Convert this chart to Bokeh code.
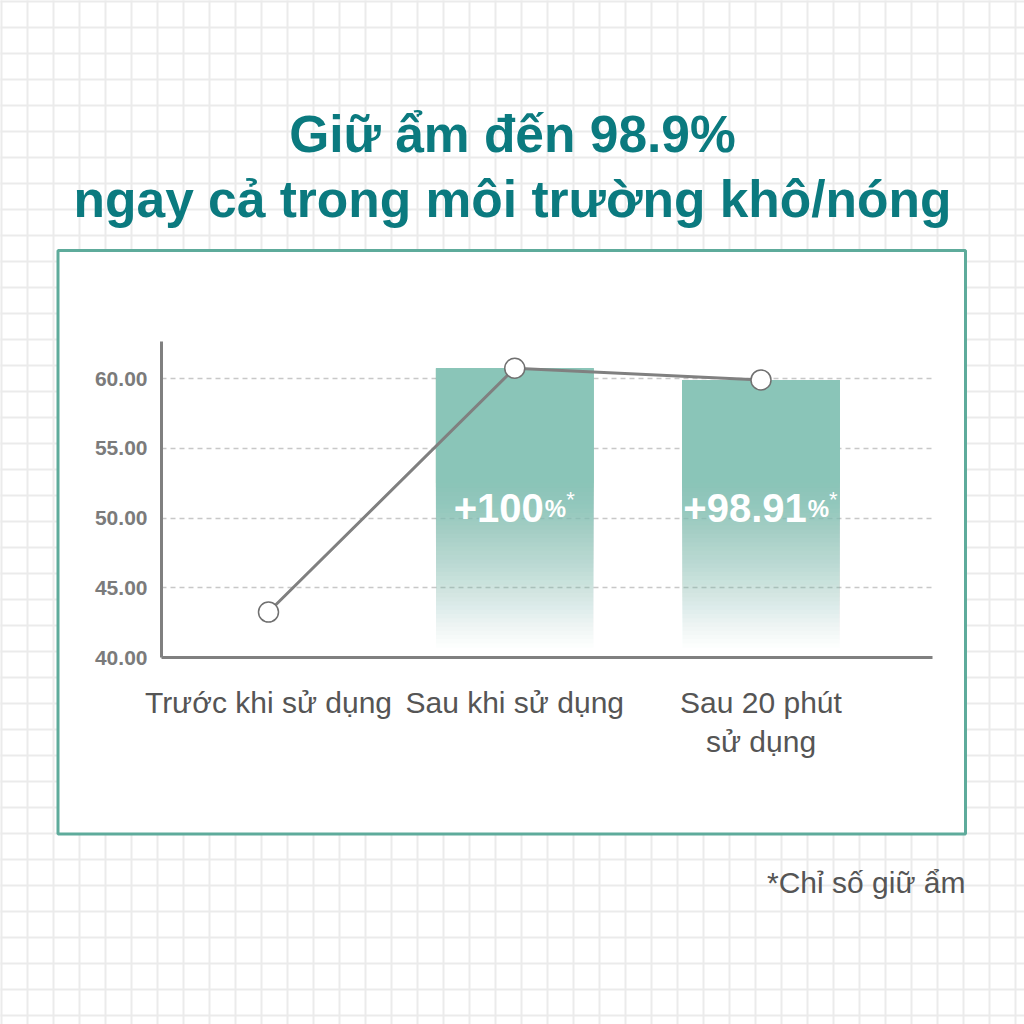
import numpy as np
from bokeh.plotting import figure
from bokeh.models import Range1d, FixedTicker, PrintfTickFormatter
from bokeh.core.properties import value
from bokeh.embed import file_html
from bokeh.resources import INLINE

# ---------------- data ----------------
title_lines = ["Giữ ẩm đến 98.9%", "ngay cả trong môi trường khô/nóng"]
categories = ["Trước khi sử dụng", "Sau khi sử dụng", "Sau 20 phút\nsử dụng"]
line_values = [43.26, 60.75, 59.91]
bar_values = [None, 60.75, 59.91]
bar_labels = [None, "+100", "+98.91"]
y_ticks = [40, 45, 50, 55, 60]
footnote = "*Chỉ số giữ ẩm"

# ---------------- layout / style ----------------
W = H = 1024
FL, FR, FT, FB = 161, 932, 341, 657   # plot frame in canvas px
TEAL_TEXT = "#0b7a7f"
TEAL_BOX = "#5eab9b"
BAR = "#8ac5b8"
GRAY_AX = "#808080"
FONT = "Liberation Sans"

p = figure(width=W, height=H, output_backend="svg", toolbar_location=None,
           x_range=Range1d(-0.4345, 2.6965), y_range=Range1d(40, 62.67),
           min_border_left=FL, min_border_right=W - FR,
           min_border_top=FT, min_border_bottom=H - FB,
           background_fill_color="white", border_fill_color="white",
           outline_line_color=None)
p.extra_x_ranges = {"px": Range1d(FL, FR)}
p.extra_y_ranges = {"px": Range1d(FB, FT)}   # data == canvas pixels (y down)

# ---------------- page background grid (outside box) ----------------
bx0, bx1, by0, by1 = 57.5, 965, 250, 833.5
gx0, gy0, gx1, gy1 = [], [], [], []
for k in range(0, 40):
    c = 26 * k + 1
    if c < 0 or c > W:
        continue
    if bx0 < c < bx1:
        gx0 += [c, c]; gx1 += [c, c]; gy0 += [0, by1]; gy1 += [by0, H]
    else:
        gx0.append(c); gx1.append(c); gy0.append(0); gy1.append(H)
    if by0 < c < by1:
        gy0 += [c, c]; gy1 += [c, c]; gx0 += [0, bx1]; gx1 += [bx0, W]
    else:
        gy0.append(c); gy1.append(c); gx0.append(0); gx1.append(W)
p.segment(gx0, gy0, gx1, gy1, x_range_name="px", y_range_name="px",
          line_color="#ebebeb", line_width=2, level="overlay")

# box outline
p.quad(left=[bx0], right=[bx1], top=[by0], bottom=[by1],
       x_range_name="px", y_range_name="px", fill_color=None,
       line_color=TEAL_BOX, line_width=3, level="overlay")

# title
p.text(x=[512] * 2, y=[133, 198], text=title_lines,
       x_range_name="px", y_range_name="px", text_align="center",
       text_baseline="alphabetic", text_font=value(FONT), text_font_style="bold",
       text_font_size="51.5px", text_color=TEAL_TEXT, level="overlay")

# footnote
p.text(x=[965], y=[882], text=[footnote],
       x_range_name="px", y_range_name="px", text_align="right",
       text_baseline="alphabetic", text_font=value(FONT),
       text_font_size="30px", text_color="#555555", level="overlay")

# ---------------- chart ----------------
p.ygrid.ticker = FixedTicker(ticks=[t for t in y_ticks if t > y_ticks[0]])
p.ygrid.grid_line_color = "#c8c8c8"
p.ygrid.grid_line_width = 1.5
p.ygrid.grid_line_dash = "5 4"
p.xgrid.grid_line_color = None

# bars with vertical fade (nested rectangles -> linear alpha ramp)
BW = 0.64
N = 40
fade_lo, fade_hi = 40.7, 52.5
bottoms = np.linspace(fade_lo, fade_hi, N)
alphas = 1.0 / (N - np.arange(N))
for i, v in enumerate(bar_values):
    if v is None:
        continue
    p.quad(left=[i - BW / 2] * N, right=[i + BW / 2] * N, top=[v] * N,
           bottom=bottoms, fill_color=BAR, fill_alpha=alphas, line_color=None)

# bar labels: big number + small % + superscript *
CW = {'+': .584, '.': .278, '%': .889, '*': .389}
for d in "0123456789":
    CW[d] = .556
NUM_S, PCT_S, STAR_S = 40, 24, 22
LABEL_Y = 50.72
STAR_Y = 51.3
for i, lab in enumerate(bar_labels):
    if lab is None:
        continue
    wn = sum(CW[c] for c in lab) * NUM_S
    wp = CW['%'] * PCT_S
    ws = CW['*'] * STAR_S
    left = -(wn + wp + ws + 2) / 2
    p.text(x=[i], y=[LABEL_Y], text=[lab], x_offset=left, text_align="left",
           text_baseline="alphabetic", text_font=value(FONT), text_font_style="bold",
           text_font_size=f"{NUM_S}px", text_color="white")
    p.text(x=[i], y=[LABEL_Y], text=["%"], x_offset=left + wn + 1, text_align="left",
           text_baseline="alphabetic", text_font=value(FONT), text_font_style="bold",
           text_font_size=f"{PCT_S}px", text_color="white")
    p.text(x=[i], y=[STAR_Y], text=["*"], x_offset=left + wn + wp + 1, text_align="left",
           text_baseline="alphabetic", text_font=value(FONT),
           text_font_size=f"{STAR_S}px", text_color="white")

# line + markers
xs = list(range(len(categories)))
p.line(xs, line_values, line_color=GRAY_AX, line_width=3)
p.scatter(xs, line_values, size=20, fill_color="white", line_color="#707070",
          line_width=1.5)

# axes
ya = p.yaxis[0]
ya.ticker = FixedTicker(ticks=y_ticks)
ya.formatter = PrintfTickFormatter(format="%.2f")
ya.major_label_text_font = FONT
ya.major_label_text_font_style = "bold"
ya.major_label_text_font_size = "21px"
ya.major_label_text_color = "#7b7b7b"
ya.major_label_standoff = 8
ya.major_tick_line_color = None
ya.minor_tick_line_color = None
ya.axis_line_width = 3
ya.axis_line_color = GRAY_AX

xa = p.xaxis[0]
xa.ticker = FixedTicker(ticks=xs)
xa.major_label_overrides = {i: c for i, c in enumerate(categories)}
xa.major_label_text_font = FONT
xa.major_label_text_font_size = "30px"
xa.major_label_text_color = "#555555"
xa.major_label_standoff = 22
xa.major_tick_line_color = None
xa.minor_tick_line_color = None
xa.axis_line_width = 3
xa.axis_line_color = GRAY_AX

open("out.html", "w").write(file_html(p, INLINE))
